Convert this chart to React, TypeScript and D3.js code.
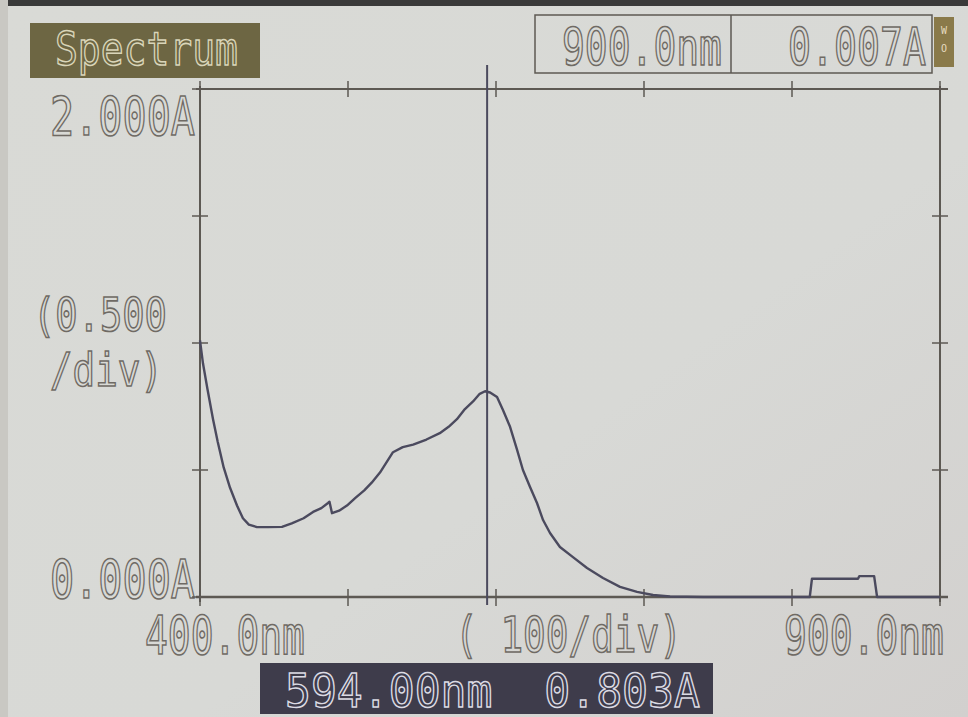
import React from "react";
import * as d3 from "d3";

const wavelengths = [400, 402, 405, 408.8, 412, 416, 420.3, 425, 429, 433, 438.5, 446, 455.4, 462, 470, 476.4, 482, 486.5, 487.5, 489.2, 494, 499.3, 505, 511, 516, 521.6, 526, 530.4, 537, 544, 553, 562, 568, 573.6, 579, 584.5, 589, 592.6, 596, 600.7, 604.7, 609.5, 614.2, 618.2, 623, 627.7, 631.8, 636.5, 643.2, 652, 661.5, 672.3, 683.8, 695.3, 706.1, 717.6, 740, 780, 812, 813.5, 830, 844.6, 845.5, 855.5, 857.5, 860, 880, 900];
const absorbance = [1.01, 0.92, 0.82, 0.70, 0.61, 0.51, 0.43, 0.36, 0.31, 0.285, 0.275, 0.275, 0.276, 0.29, 0.31, 0.335, 0.35, 0.37, 0.375, 0.33, 0.34, 0.36, 0.39, 0.42, 0.45, 0.49, 0.53, 0.57, 0.59, 0.60, 0.62, 0.645, 0.67, 0.70, 0.74, 0.77, 0.80, 0.81, 0.805, 0.787, 0.736, 0.67, 0.58, 0.50, 0.433, 0.37, 0.303, 0.252, 0.197, 0.157, 0.114, 0.075, 0.04, 0.02, 0.008, 0.002, 0, 0, 0, 0.072, 0.072, 0.072, 0.082, 0.082, 0, 0, 0, 0];

const xTicks = [400, 500, 600, 700, 800, 900];
const yTicks = [0, 0.5, 1.0, 1.5, 2.0];
const cursorNm = 594;
const titleText = "Spectrum";
const headerNm = "900.0nm";
const headerAbs = "0.007A";
const yTopLabel = "2.000A";
const yBottomLabel = "0.000A";
const yDivLabel1 = "(0.500";
const yDivLabel2 = "/div)";
const xLeftLabel = "400.0nm";
const xDivLabel = "( 100/div)";
const xRightLabel = "900.0nm";
const readoutText = "594.00nm  0.803A";
const tagLetters = ["W", "O"];

const W = 968;
const H = 717;
const plot = { left: 200, right: 940, top: 89, bottom: 597 };
const FONT = "'DejaVu Sans Mono', monospace";
const ADV = 0.602; // DejaVu Sans Mono advance width per em
const TEXT = "#6f6a64";
const AXIS = "#5d5953";
const CURVE = "#4b4a5e";

function Txt({ x, y, len, size = 54, color = TEXT, children }: any) {
  const s = String(children);
  const natural = s.length * ADV * size;
  const sx = len / natural;
  return (
    <text
      transform={`translate(${x},${y}) scale(${sx},1)`}
      x={0}
      y={0}
      fontFamily={FONT}
      fontSize={size}
      fill="none"
      stroke={color}
      strokeWidth={1.4 / Math.sqrt(sx)}
      style={{ whiteSpace: "pre" }}
    >
      {s}
    </text>
  );
}

export default function App() {
  const x = d3.scaleLinear().domain([400, 900]).range([plot.left, plot.right]);
  const y = d3.scaleLinear().domain([0, 2]).range([plot.bottom, plot.top]);
  const data = wavelengths.map((w, i) => [w, absorbance[i]] as [number, number]);
  const line = d3
    .line<[number, number]>()
    .x((d) => x(d[0]))
    .y((d) => y(d[1]))
    .curve(d3.curveLinear);

  return (
    <svg
      width={W}
      height={H}
      style={{ position: "absolute", left: 0, top: 0 }}
      xmlns="http://www.w3.org/2000/svg"
    >
      <defs>
        <linearGradient id="bg" x1="0" y1="0" x2="1" y2="1">
          <stop offset="0" stopColor="#d9dad6" />
          <stop offset="0.6" stopColor="#d8d9d6" />
          <stop offset="1" stopColor="#d2d0ce" />
        </linearGradient>
      </defs>
      <rect x={0} y={0} width={W} height={H} fill="url(#bg)" />
      <rect x={0} y={0} width={W} height={6} fill="#3a3a3a" />
      <rect x={0} y={0} width={8} height={H} fill="#c9c8c3" />

      {/* Title box */}
      <rect x={30} y={23} width={230} height={55} fill="#6d6643" />
      <Txt x={55} y={65} len={183} size={46} color="#d9d5b9">{titleText}</Txt>

      {/* Header boxes */}
      <rect x={535} y={15} width={397} height={58} fill="none" stroke={AXIS} strokeWidth={1.5} />
      <line x1={731} x2={731} y1={15} y2={73} stroke={AXIS} strokeWidth={1.5} />
      <Txt x={562} y={65} len={160} size={52}>{headerNm}</Txt>
      <Txt x={788} y={65} len={138} size={52}>{headerAbs}</Txt>
      <rect x={934} y={17} width={20} height={50} fill="#8a7a4a" />
      {tagLetters.map((c, i) => (
        <text key={c} x={944} y={34 + i * 18} fontFamily={FONT} fontSize={10} fill="#e6dcc0" textAnchor="middle">{c}</text>
      ))}

      {/* Y labels */}
      <Txt x={50} y={135} len={145}>{yTopLabel}</Txt>
      <Txt x={33} y={331} len={134} size={46}>{yDivLabel1}</Txt>
      <Txt x={50} y={386} len={113} size={46}>{yDivLabel2}</Txt>
      <Txt x={50} y={598} len={145}>{yBottomLabel}</Txt>

      {/* X labels */}
      <Txt x={145} y={654} len={160}>{xLeftLabel}</Txt>
      <Txt x={455} y={652} len={227} size={50}>{xDivLabel}</Txt>
      <Txt x={784} y={654} len={160}>{xRightLabel}</Txt>

      {/* Frame */}
      <line x1={plot.left} x2={plot.left} y1={plot.top - 3} y2={plot.bottom + 5} stroke={AXIS} strokeWidth={2} />
      <line x1={plot.right} x2={plot.right} y1={plot.top - 3} y2={plot.bottom + 5} stroke={AXIS} strokeWidth={2} />
      <line x1={plot.left - 4} x2={plot.right + 8} y1={plot.top} y2={plot.top} stroke={AXIS} strokeWidth={2} />
      <line x1={plot.left - 4} x2={plot.right + 8} y1={plot.bottom} y2={plot.bottom} stroke={AXIS} strokeWidth={2.5} />

      {/* X ticks */}
      {xTicks.map((t) => (
        <g key={"xt" + t}>
          <line x1={x(t)} x2={x(t)} y1={plot.top - 8} y2={plot.top + 8} stroke={AXIS} strokeWidth={1.5} />
          <line x1={x(t)} x2={x(t)} y1={plot.bottom - 8} y2={plot.bottom + 9} stroke={AXIS} strokeWidth={1.5} />
        </g>
      ))}
      {/* Y ticks */}
      {yTicks.map((t) => (
        <g key={"yt" + t}>
          <line x1={plot.left - 8} x2={plot.left + 8} y1={y(t)} y2={y(t)} stroke={AXIS} strokeWidth={1.5} />
          <line x1={plot.right - 8} x2={plot.right + 8} y1={y(t)} y2={y(t)} stroke={AXIS} strokeWidth={1.5} />
        </g>
      ))}

      {/* Curve */}
      <path d={line(data) || ""} fill="none" stroke={CURVE} strokeWidth={2.4} strokeLinejoin="round" />

      {/* Cursor */}
      <line x1={x(cursorNm)} x2={x(cursorNm)} y1={65} y2={605} stroke={CURVE} strokeWidth={2} />

      {/* Readout */}
      <rect x={260} y={663} width={453} height={51} fill="#3e3c4b" />
      <Txt x={285} y={707} len={415} size={46} color="#dcdbe4">{readoutText}</Txt>
    </svg>
  );
}
